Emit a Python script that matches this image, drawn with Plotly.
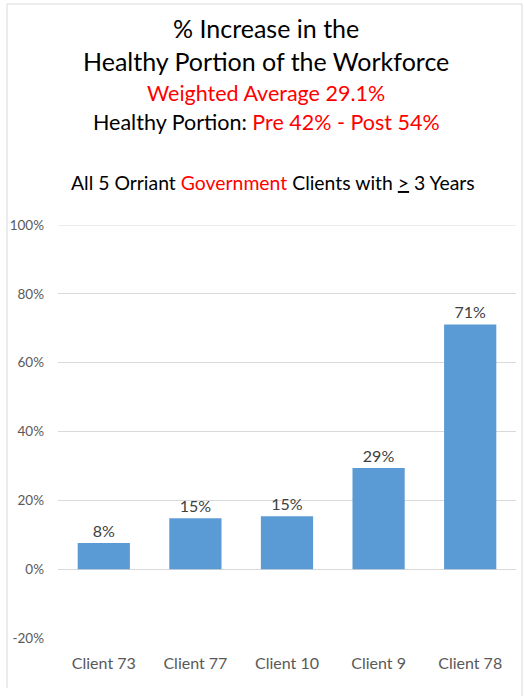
import plotly.graph_objects as go

clients = ["Client 73", "Client 77", "Client 10", "Client 9", "Client 78"]
increase_pct = [7.6, 14.8, 15.4, 29.4, 71.1]
tick_vals = [-20, 0, 20, 40, 60, 80, 100]
tick_text = ["-20%", "0%", "20%", "40%", "60%", "80%", "100%"]

W, H = 524, 696
L, R, T, B = 58, 8, 225, 58
PW, PH = W - L - R, H - T - B

FONT = "Lato, 'Open Sans', sans-serif"
RED = "#ff0000"
BLACK = "#000000"
GRID = "#d9d9d9"


def px_x(x):
    return (x - L) / PW


def px_y(y):
    return (H - B - y) / PH


fig = go.Figure(
    go.Bar(
        x=clients,
        y=increase_pct,
        marker=dict(color="#5b9bd5", line=dict(width=0)),
        texttemplate="%{y:.0f}%",
        textposition="outside",
        textfont=dict(size=16, color="#404040", family=FONT),
        cliponaxis=False,
        width=0.57,
    )
)

# (centre x, centre y, font size, rich text)
title_lines = [
    (266, 28, 25, f"<span style='color:{BLACK}'>% Increase in the</span>"),
    (266, 61, 25, f"<span style='color:{BLACK}'>Healthy Portion of the Workforce</span>"),
    (266, 93, 21.5, f"<span style='color:{RED}'>Weighted Average 29.1%</span>"),
    (266, 122, 21.5, f"<span style='color:{BLACK}'>Healthy Portion: </span>"
                     f"<span style='color:{RED}'>Pre 42% - Post 54%</span>"),
    (273, 182, 19.4, f"<span style='color:{BLACK}'>All 5 Orriant </span>"
                     f"<span style='color:{RED}'>Government</span>"
                     f"<span style='color:{BLACK}'> Clients with <u>></u> 3 Years</span>"),
]

annotations = []
for cx, cy, size, txt in title_lines:
    annotations.append(
        dict(
            x=px_x(cx), y=px_y(cy), xref="paper", yref="paper",
            text=txt, showarrow=False, xanchor="center", yanchor="middle",
            font=dict(size=size, family=FONT, color=BLACK),
        )
    )

border = dict(color=GRID, width=1)
shapes = [
    # chart frame
    dict(type="line", xref="paper", yref="paper",
         x0=px_x(7), x1=px_x(7), y0=px_y(4), y1=px_y(688), line=border),
    dict(type="line", xref="paper", yref="paper",
         x0=px_x(7), x1=px_x(522), y0=px_y(4), y1=px_y(4), line=border),
    dict(type="line", xref="paper", yref="paper",
         x0=px_x(522), x1=px_x(522), y0=px_y(4), y1=px_y(696), line=border),
    # top gridline at the range edge
    dict(type="line", xref="paper", yref="y", x0=0, x1=1,
         y0=tick_vals[-1], y1=tick_vals[-1], line=dict(color=GRID, width=1),
         layer="below"),
]

fig.update_layout(
    width=W, height=H,
    margin=dict(l=L, r=R, t=T, b=B),
    paper_bgcolor="white", plot_bgcolor="white",
    showlegend=False,
    annotations=annotations,
    shapes=shapes,
    font=dict(family=FONT),
)

fig.update_yaxes(
    range=[-20, 100],
    tickvals=tick_vals, ticktext=tick_text,
    showgrid=True, gridcolor=GRID, gridwidth=1,
    zeroline=False, showline=False, ticks="",
    ticklabelstandoff=13,
    tickfont=dict(size=13.5, color="#595959", family=FONT),
)

fig.update_xaxes(
    showgrid=False, showline=False, ticks="",
    ticklabelstandoff=14,
    tickfont=dict(size=16, color="#595959", family=FONT),
)

fig.write_html("out.html")
